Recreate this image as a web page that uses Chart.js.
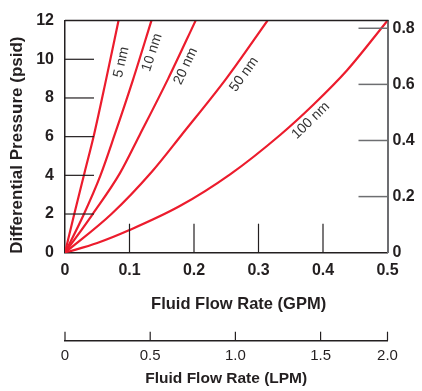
<!DOCTYPE html>
<html>
<head>
<meta charset="utf-8">
<script src="https://cdn.jsdelivr.net/npm/chart.js@4.4.0/dist/chart.umd.min.js"></script>
<style>
  html, body { margin: 0; padding: 0; background: #fff; }
</style>
</head>
<body>
<canvas id="chart" width="422" height="391"></canvas>
<script>
// Data (GPM vs psid for each pore size)
const curveNames = ['5 nm', '10 nm', '20 nm', '50 nm', '100 nm'];
const gpm5 = [0, 0.014, 0.030, 0.045, 0.064, 0.083];
const psid5 = [0, 1.95, 4.1, 6.1, 9.0, 12];
const gpm10 = [0, 0.028, 0.055, 0.077, 0.105, 0.134];
const psid10 = [0, 1.9, 4.0, 6.1, 8.9, 12];
const gpm20 = [0, 0.043, 0.085, 0.116, 0.16, 0.2025];
const psid20 = [0, 2.0, 4.1, 6.1, 9.0, 12];
const gpm50 = [0, 0.072, 0.135, 0.181, 0.25, 0.314];
const psid50 = [0, 2.0, 4.2, 6.1, 9.0, 12];
const gpm100 = [0, 0.05, 0.1, 0.178, 0.256, 0.334, 0.385, 0.437, 0.5];
const psid100 = [0, 0.5, 1.17, 2.41, 4.05, 6.1, 7.65, 9.42, 12];

// Label anchors (data units) and text angles for the curve names
const labelGpm = [0.0874, 0.135, 0.187, 0.2776, 0.381];
const labelPsid = [9.85, 10.35, 9.64, 9.22, 6.83];
const labelAngle = [-77, -72, -65, -54, -44];

// Tick values
const psidTicks = [0, 2, 4, 6, 8, 10, 12];
const barTicks = [0, 0.2, 0.4, 0.6, 0.8];
const gpmTicks = [0, 0.1, 0.2, 0.3, 0.4, 0.5];
const lpmTicks = [0, 0.5, 1.0, 1.5, 2.0];

const PSID_MAX = 12;
const BAR_MAX = PSID_MAX * 0.0689476;
const GPM_MAX = 0.5;
const LPM_MAX = GPM_MAX * 3.78541;

const ink = '#231f20';
const red = '#ec1c2d';
const gray = '#6d6e71';
const family = "'Liberation Sans', Arial, sans-serif";

const fmt = v => (v === 0 ? '0' : v.toFixed(1));

const series = [
    [gpm5, psid5], [gpm10, psid10], [gpm20, psid20], [gpm50, psid50], [gpm100, psid100]
];

const datasets = series.map((s, i) => ({
    label: curveNames[i],
    data: s[0].map((x, j) => ({ x: x, y: s[1][j] })),
    showLine: true,
    borderColor: red,
    borderWidth: 2.2,
    pointRadius: 0,
    cubicInterpolationMode: 'monotone',
    xAxisID: 'x',
    yAxisID: 'y'
}));

// Inner tick marks, top border, LPM ticks and curve names
const extras = {
    id: 'extras',
    afterDraw(chart) {
        const { ctx, chartArea: a, scales } = chart;
        const seg = (x1, y1, x2, y2) => {
            ctx.beginPath(); ctx.moveTo(x1, y1); ctx.lineTo(x2, y2); ctx.stroke();
        };
        ctx.save();
        ctx.strokeStyle = ink;
        ctx.lineWidth = 1.5;
        seg(a.left, a.top, a.right + 1, a.top);

        ctx.lineWidth = 1.2;
        psidTicks.forEach(v => {
            if (v <= 0 || v >= PSID_MAX) return;
            const y = scales.y.getPixelForValue(v);
            seg(a.left, y, a.left + 29, y);
        });
        gpmTicks.forEach(v => {
            if (v <= 0 || v >= GPM_MAX) return;
            const x = scales.x.getPixelForValue(v);
            seg(x, a.bottom, x, a.bottom - 29);
        });
        ctx.strokeStyle = gray;
        ctx.lineWidth = 1.5;
        barTicks.forEach(v => {
            if (v <= 0) return;
            const y = scales.y2.getPixelForValue(v);
            seg(a.right - 29, y, a.right, y);
        });
        ctx.strokeStyle = ink;
        ctx.lineWidth = 1.2;
        const xl = scales.xl;
        xl.ticks.forEach(t => {
            const x = xl.getPixelForValue(t.value);
            seg(x, xl.top, x, xl.top - 9);
        });

        ctx.fillStyle = '#333';
        ctx.font = '14px ' + family;
        ctx.textAlign = 'center';
        ctx.textBaseline = 'middle';
        curveNames.forEach((name, i) => {
            const x = scales.x.getPixelForValue(labelGpm[i]);
            const y = scales.y.getPixelForValue(labelPsid[i]);
            ctx.save();
            ctx.translate(x, y);
            ctx.rotate(labelAngle[i] * Math.PI / 180);
            ctx.fillText(name, 0, 0);
            ctx.restore();
        });
        ctx.restore();
    }
};

const tickFont = { family: family, size: 16, weight: 'bold' };

new Chart(document.getElementById('chart'), {
    type: 'scatter',
    data: { datasets: datasets },
    options: {
        responsive: false,
        animation: false,
        layout: { padding: { top: 10.7, left: 0, right: 0, bottom: 0 } },
        plugins: { legend: { display: false }, tooltip: { enabled: false } },
        scales: {
            x: {
                type: 'linear', position: 'bottom', weight: 0,
                min: 0, max: GPM_MAX,
                afterBuildTicks: s => { s.ticks = gpmTicks.map(v => ({ value: v })); },
                afterFit: s => { s.height = 88; },
                ticks: { callback: v => fmt(v), font: tickFont, color: ink, padding: 8, maxRotation: 0, autoSkip: false },
                grid: { drawOnChartArea: false, drawTicks: false },
                border: { color: ink, width: 1.5 },
                title: { display: true, text: '\u2002\u2002\u2002Fluid Flow Rate (GPM)', font: { family: family, size: 16.5, weight: 'bold' }, color: ink, padding: { top: 0, bottom: 26.8 } }
            },
            xl: {
                type: 'linear', position: 'bottom', weight: 1,
                min: 0, max: LPM_MAX,
                afterBuildTicks: s => { s.ticks = lpmTicks.map(v => ({ value: Math.min(v, LPM_MAX) })); },
                afterFit: s => { s.height = 50.3; },
                ticks: { callback: (v, i) => fmt(lpmTicks[i]), font: { family: family, size: 15 }, color: ink, padding: 6, maxRotation: 0, autoSkip: false },
                grid: { drawOnChartArea: false, drawTicks: false },
                border: { color: ink, width: 1.5 },
                title: { display: true, text: 'Fluid Flow Rate (LPM)', font: { family: family, size: 15.5, weight: 'bold' }, color: ink, padding: { top: 0, bottom: 2.7 } }
            },
            y: {
                type: 'linear', position: 'left',
                min: 0, max: PSID_MAX,
                afterBuildTicks: s => { s.ticks = psidTicks.map(v => ({ value: v })); },
                afterFit: s => { s.width = 65; },
                ticks: { font: tickFont, color: ink, padding: 11 },
                grid: { drawOnChartArea: false, drawTicks: false },
                border: { color: ink, width: 1.5 },
                title: { display: true, text: 'Differential Pressure (psid)\u2002\u2002', font: { family: family, size: 17, weight: 'bold' }, color: ink, padding: { top: 6.8, bottom: 0 } }
            },
            y2: {
                type: 'linear', position: 'right',
                min: 0, max: BAR_MAX,
                afterBuildTicks: s => { s.ticks = barTicks.map(v => ({ value: v })); },
                afterFit: s => { s.width = 34.5; },
                ticks: { callback: v => fmt(v), font: tickFont, color: ink, padding: 5 },
                grid: { drawOnChartArea: false, drawTicks: false },
                border: { color: gray, width: 2 }
            }
        }
    },
    plugins: [extras]
});
</script>
</body>
</html>
